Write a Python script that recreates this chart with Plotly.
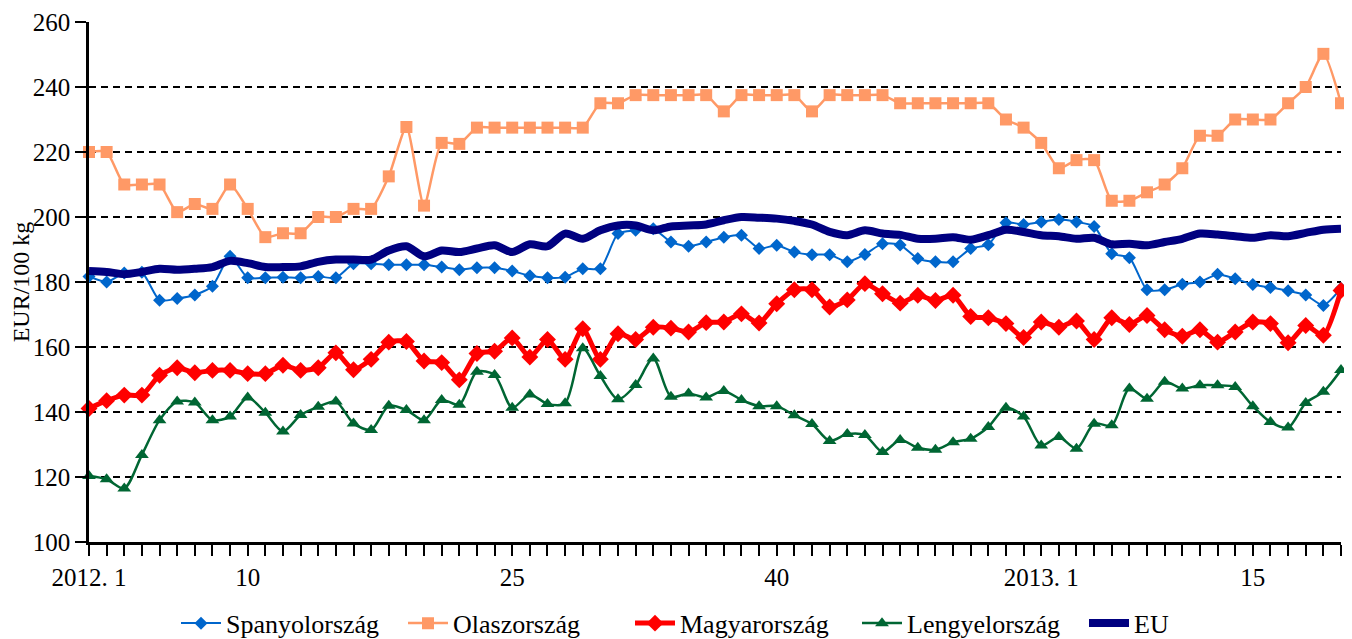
import plotly.graph_objects as go

weeks = list(range(72))

tick_pos = [0, 9, 24, 39, 54, 66]
tick_text = ["2012. 1", "10", "25", "40", "2013. 1", "15"]

spanyol = [181.7, 180, 182.8, 183, 174.4, 174.9, 176, 178.7, 187.9, 181.3,
           181.3, 181.5, 181.3, 181.7, 181.3, 185.6, 185.6, 185.3, 185.3, 185.3,
           184.6, 183.8, 184.4, 184.4, 183.4, 181.9, 181.3, 181.5, 184.1, 184.1,
           194.9, 195.9, 196.4, 192.3, 191, 192.3, 193.8, 194.4, 190.3, 191.3,
           189.2, 188.4, 188.4, 186.2, 188.5, 191.8, 191.4, 187.2, 186.2, 186.2,
           190.3, 191.5, 198.2, 197.7, 198.5, 199.2, 198.5, 197.1, 188.7, 187.5,
           177.6, 177.6, 179.3, 180, 182.4, 181, 179.2, 178.3, 177.3, 176, 172.8, 178]

olasz = [220, 220, 210, 210, 210, 201.5, 204, 202.5, 210, 202.5,
         193.8, 195, 195, 200, 200, 202.5, 202.5, 212.5, 227.7, 203.5,
         222.8, 222.5, 227.5, 227.5, 227.5, 227.5, 227.5, 227.5, 227.5, 235,
         235, 237.5, 237.5, 237.5, 237.5, 237.5, 232.5, 237.5, 237.5, 237.5,
         237.5, 232.5, 237.5, 237.5, 237.5, 237.5, 235, 235, 235, 235,
         235, 235, 230, 227.5, 222.8, 215, 217.5, 217.5, 205, 205,
         207.6, 210, 215, 225, 225, 230, 230, 230, 235, 240, 250.2, 235]

magyar = [141.1, 143.5, 145.2, 145.2, 151.3, 153.6, 152.1, 152.8, 152.8, 151.8,
          151.8, 154.4, 152.8, 153.6, 158.2, 153, 156.2, 161.5, 161.7, 155.7,
          155.2, 149.9, 158, 158.7, 162.8, 156.9, 162.3, 156.2, 165.6, 156.2,
          164.1, 162.3, 166.1, 165.8, 164.6, 167.5, 167.7, 170.2, 167.4, 173.3,
          177.6, 177.6, 172.3, 174.5, 179.5, 176.4, 173.5, 175.9, 174.3, 175.9,
          169.4, 169, 167.2, 162.9, 167.7, 166.1, 168, 162.3, 169, 166.9,
          169.7, 165.3, 163.3, 165.3, 161.5, 164.6, 167.7, 167.2, 161.3, 166.6, 163.6, 177.4]

lengyel = [120.3, 119.3, 116.5, 126.8, 137.5, 143.2, 142.9, 137.5, 138.6, 144.5,
           139.8, 134, 139.1, 141.6, 143.2, 136.5, 134.5, 141.9, 140.6, 137.5,
           143.7, 142.2, 152.4, 151.4, 141.3, 145.4, 142.5, 142.7, 159.6, 151.1,
           143.9, 148.3, 156.5, 144.7, 145.7, 144.5, 146.5, 143.7, 141.8, 141.8,
           139, 136.3, 131.1, 133.2, 132.9, 127.7, 131.4, 129, 128.4, 130.7,
           131.8, 135.4, 141.3, 138.6, 129.7, 132.3, 128.7, 136.4, 135.9, 147.2,
           144.1, 149.3, 147.2, 148.2, 148.2, 147.7, 141.8, 136.9, 135.2, 142.8, 146.2, 152.9]

eu = [183.4, 183.1, 182.4, 183.1, 184.1, 183.8, 184.1, 184.6, 186.5, 185.8,
      184.6, 184.6, 184.8, 186.2, 186.9, 186.9, 186.9, 189.7, 191, 187.9,
      189.7, 189.2, 190.3, 191.3, 189.2, 191.6, 191, 194.9, 193.3, 195.9,
      197.4, 197.4, 195.9, 197.1, 197.4, 197.7, 199, 200, 199.8, 199.5,
      198.8, 197.7, 195.4, 194.4, 195.9, 194.9, 194.5, 193.3, 193.3, 193.8,
      193, 194.4, 196.1, 195.4, 194.4, 194.1, 193.3, 193.6, 191.6, 191.8,
      191.3, 192.3, 193.3, 194.9, 194.6, 194.1, 193.6, 194.4, 194.1, 195.1, 196.1, 196.4]

FONT = "Liberation Serif"

fig = go.Figure()

fig.add_trace(go.Scatter(
    x=weeks, y=spanyol, name="Spanyolország", mode="lines+markers",
    line=dict(color="#0066CC", width=2, shape="spline", smoothing=0.6),
    marker=dict(symbol="diamond", size=10, color="#0066CC"),
    cliponaxis=False))
fig.add_trace(go.Scatter(
    x=weeks, y=olasz, name="Olaszország", mode="lines+markers",
    line=dict(color="#FF9966", width=2.5, shape="spline", smoothing=0.6),
    marker=dict(symbol="square", size=12, color="#FF9966"),
    cliponaxis=False))
fig.add_trace(go.Scatter(
    x=weeks, y=magyar, name="Magyarország", mode="lines+markers",
    line=dict(color="#FF0000", width=5, shape="spline", smoothing=0.6),
    marker=dict(symbol="diamond", size=13, color="#FF0000"),
    cliponaxis=False))
fig.add_trace(go.Scatter(
    x=weeks, y=lengyel, name="Lengyelország", mode="lines+markers",
    line=dict(color="#006633", width=2.5, shape="spline", smoothing=0.8),
    marker=dict(symbol="triangle-up", size=12, color="#006633"),
    cliponaxis=False))
fig.add_trace(go.Scatter(
    x=weeks, y=eu, name="EU", mode="lines",
    line=dict(color="#000080", width=8, shape="spline", smoothing=0.8),
    cliponaxis=False))

fig.update_layout(
    width=1344, height=631,
    margin=dict(l=81, r=11, t=14, b=97, autoexpand=False),
    paper_bgcolor="white", plot_bgcolor="white",
    font=dict(family=FONT, size=25, color="black"),
    showlegend=True,
    legend=dict(orientation="h", xref="container", yref="container",
                x=0.125, xanchor="left", y=0.025, yanchor="middle",
                font=dict(family=FONT, size=26, color="black"),
                entrywidth=172, itemwidth=40),
    xaxis=dict(range=[0, 71], showgrid=False, zeroline=False,
               showline=True, linecolor="black", linewidth=2.5,
               ticks="", tickvals=tick_pos, ticktext=tick_text,
               tickfont=dict(family=FONT, size=25, color="black"),
               minor=dict(ticks="outside", tick0=0, dtick=1, ticklen=11,
                          tickwidth=2, tickcolor="black", showgrid=False),
               ticklabelstandoff=11),
    yaxis=dict(range=[100, 260], dtick=20, showgrid=True,
               gridcolor="black", gridwidth=2.2, griddash="7px,5px",
               zeroline=False, showline=True, linecolor="black", linewidth=2.5,
               ticks="outside", ticklen=11, tickwidth=2, tickcolor="black",
               tickfont=dict(family=FONT, size=25, color="black"),
               title=dict(text="EUR/100 kg", standoff=6,
                          font=dict(family=FONT, size=24, color="black"))),
)

fig.write_html("out.html")
